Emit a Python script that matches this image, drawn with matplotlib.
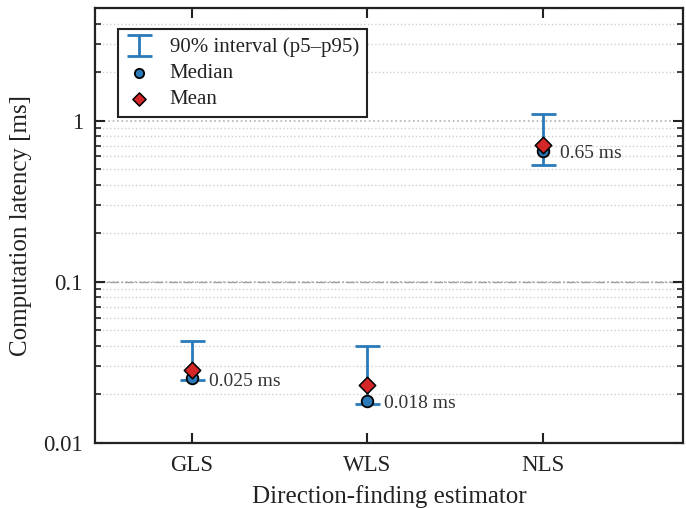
import matplotlib
matplotlib.use("Agg")
import matplotlib.pyplot as plt
import numpy as np
from matplotlib.ticker import LogLocator, NullFormatter

plt.rcParams['font.family'] = ['Liberation Serif', 'DejaVu Serif']

# latency data [ms]
estimators = ['GLS', 'WLS', 'NLS']
p5 = [0.0245, 0.0175, 0.533]
p95 = [0.043, 0.040, 1.10]
median = [0.0252, 0.0183, 0.65]
mean = [0.0284, 0.0228, 0.71]
labels = ['0.025 ms', '0.018 ms', '0.65 ms']

x = np.arange(len(estimators))
med = np.array(median)
yerr = np.vstack([med - np.array(p5), np.array(p95) - med])

fig, ax = plt.subplots(figsize=(6.86, 5.08), dpi=100)
fig.subplots_adjust(left=0.139, right=0.996, top=0.984, bottom=0.128)

ax.set_yscale('log')
ax.set_ylim(0.01, 5)
ax.set_xlim(-0.55, 2.8)

# grid
ax.yaxis.set_minor_locator(LogLocator(base=10, subs=np.arange(2, 10)))
ax.yaxis.set_minor_formatter(NullFormatter())
ax.grid(True, which='minor', axis='y', color='#d0d0d0', linestyle=':', linewidth=1.0)
ax.grid(True, which='major', axis='y', color='#b0b0b0', linestyle=':', linewidth=1.2)
ax.axhline(0.1, color='#999999', linestyle='-.', linewidth=1.0, zorder=1)

eb = ax.errorbar(x, med, yerr=yerr, fmt='none', ecolor='#2a7ab9', elinewidth=2,
                 capsize=9, capthick=2, zorder=3)
sc_med = ax.scatter(x, median, s=70, color='#2a7ab9', edgecolor='black', linewidth=1.3,
                    zorder=4)
sc_mean = ax.scatter(x, mean, s=70, marker='D', color='#d62728', edgecolor='black',
                     linewidth=1.1, zorder=5)

for xi, yi, t in zip(x, median, labels):
    ax.annotate(t, (xi, yi), xytext=(12, -2), textcoords='offset points',
                fontsize=14, color='#333333', va='center', ha='left')

ax.set_xticks(x)
ax.set_xticklabels(estimators)
ax.set_yticks([0.01, 0.1, 1])
ax.set_yticklabels(['0.01', '0.1', '1'])
ax.tick_params(axis='both', which='major', direction='in', length=7, width=1.5,
               labelsize=16.5, top=True, right=True, colors='#222222', pad=9)
ax.tick_params(axis='y', which='minor', direction='in', length=4, width=1.2,
               right=True, colors='#222222')
ax.tick_params(axis='x', which='minor', bottom=False, top=False)
ax.tick_params(labelcolor='#222222')

for sp in ax.spines.values():
    sp.set_linewidth(1.6)
    sp.set_color('#222222')

ax.set_xlabel('Direction-finding estimator', fontsize=18, color='#222222', labelpad=6)
ax.set_ylabel('Computation latency [ms]', fontsize=18, color='#222222', labelpad=8)

leg = ax.legend([eb, sc_med, sc_mean], ['90% interval (p5–p95)', 'Median', 'Mean'],
                loc='upper left', fontsize=15, fancybox=False, framealpha=1,
                edgecolor='#222222', bbox_to_anchor=(0.02, 0.975), handlelength=1.3,
                borderpad=0.4, labelspacing=0.3, markerscale=0.8)
leg.get_frame().set_linewidth(1.5)
for t in leg.get_texts():
    t.set_color('#222222')

fig.savefig('out.png', dpi=100)
